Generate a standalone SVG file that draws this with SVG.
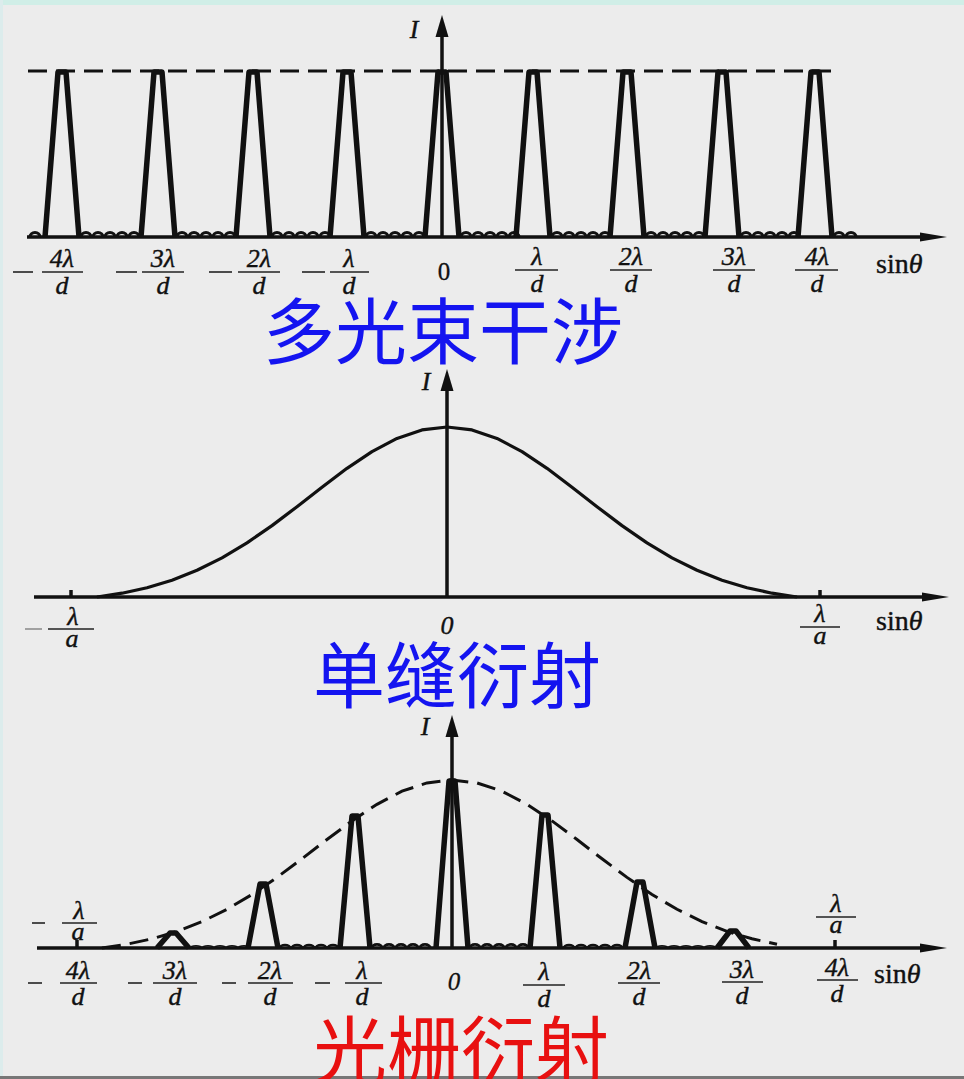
<svg xmlns="http://www.w3.org/2000/svg" xmlns:xlink="http://www.w3.org/1999/xlink" width="964" height="1079" viewBox="0 0 964 1079">
<defs>
<style>
.ax{stroke:#111;stroke-width:3.5;fill:none}
.pk{stroke:#111;stroke-width:5.5;fill:none;stroke-linejoin:round}
.bm{stroke:#111;stroke-width:3.2;fill:none}
.dash{stroke:#111;stroke-width:3;fill:none;stroke-dasharray:19 9}
.curve{stroke:#111;stroke-width:3.2;fill:none;stroke-linejoin:round}
.bar{stroke:#222;stroke-width:1.6}
.mt{font-family:"Liberation Serif","DejaVu Serif",serif;font-style:italic;font-size:26px;fill:#111;text-anchor:middle;stroke:#111;stroke-width:0.4}
.up{font-family:"Liberation Serif","DejaVu Serif",serif;font-size:25px;fill:#111;stroke:#111;stroke-width:0.3}
.sin{font-family:"Liberation Serif","DejaVu Serif",serif;font-size:28px;fill:#111;stroke:#111;stroke-width:0.4}
.tb{font-family:"Noto Sans CJK SC","Noto Sans",sans-serif;font-size:72px;fill:#1414f0}
.tr{font-family:"Noto Sans CJK SC","Noto Sans",sans-serif;font-size:74px;fill:#e81010}
</style>
<marker id="av" markerUnits="userSpaceOnUse" viewBox="0 -8 24 16" refX="0" refY="0" markerWidth="24" markerHeight="16" orient="auto"><path d="M0,-6.5 L22,0 L0,6.5 z" fill="#111"/></marker>
<marker id="ah" markerUnits="userSpaceOnUse" viewBox="0 -6 30 12" refX="0" refY="0" markerWidth="30" markerHeight="12" orient="auto"><path d="M0,-4.5 L27,0 L0,4.5 z" fill="#111"/></marker>
<path id="b5" d="M2,0 a5,4.5 0 0 1 10,0 m2,0 a5,4.5 0 0 1 10,0 m2,0 a5,4.5 0 0 1 10,0 m2,0 a5,4.5 0 0 1 10,0 m2,0 a5,4.5 0 0 1 10,0"/>
</defs>

<rect x="0" y="0" width="964" height="1079" fill="#ececec"/>
<rect x="0" y="0" width="964" height="5" fill="#d0eee7"/>
<rect x="0" y="0" width="3" height="1079" fill="#dcecec"/>
<rect x="0" y="1076" width="964" height="3" fill="#777"/>

<!-- ============ Panel 1: multi-beam interference ============ -->
<g id="panel-top">
  <g id="top-axes">
    <line class="ax" x1="27" y1="237" x2="920" y2="237" marker-end="url(#ah)"/>
    <line class="ax" x1="442" y1="237" x2="442" y2="37" marker-end="url(#av)"/>
  </g>
  <line id="top-dashed" class="dash" x1="28" y1="71" x2="838" y2="71"/>
  <g id="top-peaks">
    <path class="pk" d="M45,237 L58,72 L66,72 L79,237"/>
    <path class="pk" d="M141,237 L154,72 L162,72 L175,237"/>
    <path class="pk" d="M236,237 L249,72 L257,72 L270,237"/>
    <path class="pk" d="M330,237 L343,72 L351,72 L364,237"/>
    <path class="pk" d="M425,237 L438,72 L446,72 L459,237"/>
    <path class="pk" d="M516,237 L529,72 L537,72 L550,237"/>
    <path class="pk" d="M610,237 L623,72 L631,72 L644,237"/>
    <path class="pk" d="M705,237 L718,72 L726,72 L739,237"/>
    <path class="pk" d="M798,237 L811,72 L819,72 L832,237"/>
  </g>
  <g id="top-bumps" class="bm">
    <path d="M30,237 a5,4.5 0 0 1 10,0"/>
    <use xlink:href="#b5" href="#b5" x="79" y="237"/>
    <use xlink:href="#b5" href="#b5" x="175" y="237"/>
    <use xlink:href="#b5" href="#b5" x="270" y="237"/>
    <use xlink:href="#b5" href="#b5" x="364" y="237"/>
    <use xlink:href="#b5" href="#b5" x="459" y="237"/>
    <use xlink:href="#b5" href="#b5" x="550" y="237"/>
    <use xlink:href="#b5" href="#b5" x="644" y="237"/>
    <use xlink:href="#b5" href="#b5" x="739" y="237"/>
    <path d="M834,237 a5,4.5 0 0 1 10,0 m2,0 a5,4.5 0 0 1 10,0"/>
  </g>
  <g id="top-labels">
    <text class="mt" x="414" y="38">I</text>
    <line class="bar" x1="13" y1="272" x2="33" y2="272"/>
    <text class="mt" x="62" y="267">4λ</text><line class="bar" x1="42" y1="272" x2="83" y2="272"/><text class="mt" x="62" y="294">d</text>
    <line class="bar" x1="116" y1="272" x2="137" y2="272"/>
    <text class="mt" x="163" y="267">3λ</text><line class="bar" x1="142" y1="272" x2="184" y2="272"/><text class="mt" x="163" y="294">d</text>
    <line class="bar" x1="209" y1="272" x2="232" y2="272"/>
    <text class="mt" x="259" y="267">2λ</text><line class="bar" x1="238" y1="272" x2="280" y2="272"/><text class="mt" x="259" y="294">d</text>
    <line class="bar" x1="302" y1="272" x2="325" y2="272"/>
    <text class="mt" x="349" y="267">λ</text><line class="bar" x1="330" y1="272" x2="369" y2="272"/><text class="mt" x="349" y="294">d</text>
    <text class="up" x="444" y="280" text-anchor="middle">0</text>
    <text class="mt" x="537" y="265">λ</text><line class="bar" x1="515" y1="270" x2="558" y2="270"/><text class="mt" x="537" y="292">d</text>
    <text class="mt" x="631" y="265">2λ</text><line class="bar" x1="610" y1="270" x2="652" y2="270"/><text class="mt" x="631" y="292">d</text>
    <text class="mt" x="734" y="265">3λ</text><line class="bar" x1="713" y1="270" x2="755" y2="270"/><text class="mt" x="734" y="292">d</text>
    <text class="mt" x="817" y="265">4λ</text><line class="bar" x1="795" y1="270" x2="838" y2="270"/><text class="mt" x="817" y="292">d</text>
    <text class="sin" x="876" y="273">sin<tspan font-style="italic">θ</tspan></text>
  </g>
  <text id="title-top" class="tb" x="263" y="358">多光束干涉</text>
</g>

<!-- ============ Panel 2: single-slit diffraction ============ -->
<g id="panel-mid">
  <g id="mid-axes">
    <line class="ax" x1="34" y1="597" x2="922" y2="597" marker-end="url(#ah)"/>
    <line class="ax" x1="447" y1="597" x2="447" y2="391" marker-end="url(#av)"/>
    <line class="ax" x1="71" y1="590" x2="71" y2="597" stroke-width="2.5"/>
    <line class="ax" x1="820" y1="590" x2="820" y2="597" stroke-width="2.5"/>
  </g>
  <path id="mid-curve" class="curve" d="M97,597 L122,593.2 L147,587.7 L172,580.2 L197,570.3 L222,557.9 L247,542.9 L272,525.6 L297,506.7 L322,487.2 L347,468.3 L372,451.6 L397,438.4 L422,429.9 L447,427 L472,429.9 L497,438.4 L522,451.6 L547,468.3 L572,487.2 L597,506.7 L622,525.6 L647,542.9 L672,557.9 L697,570.3 L722,580.2 L747,587.7 L772,593.2 L797,597"/>
  <g id="mid-labels">
    <text class="mt" x="426" y="390">I</text>
    <line x1="25" y1="629" x2="42" y2="629" stroke="#888" stroke-width="1.5"/>
    <text class="mt" x="73" y="625" font-size="23">λ</text><line class="bar" x1="48" y1="629" x2="94" y2="629"/><text class="mt" x="72" y="647" font-size="23">a</text>
    <text class="mt" x="447" y="634" font-size="23">0</text>
    <text class="mt" x="820" y="622" font-size="23">λ</text><line class="bar" x1="800" y1="627" x2="840" y2="627"/><text class="mt" x="820" y="644" font-size="23">a</text>
    <text class="sin" x="876" y="630">sin<tspan font-style="italic">θ</tspan></text>
  </g>
  <text id="title-mid" class="tb" x="313" y="702" font-size="74">单缝衍射</text>
</g>

<!-- ============ Panel 3: grating diffraction ============ -->
<g id="panel-bottom">
  <g id="bot-axes">
    <line class="ax" x1="37" y1="948" x2="920" y2="948" marker-end="url(#ah)" stroke-width="4"/>
    <line class="ax" x1="452" y1="948" x2="452" y2="737" marker-end="url(#av)"/>
    <line class="ax" x1="77" y1="940" x2="77" y2="948" stroke-width="2.5"/>
    <line class="ax" x1="835" y1="940" x2="835" y2="948" stroke-width="2.5"/>
  </g>
  <path id="bot-envelope" class="dash" d="M102,948 L127,944.2 L152,938.8 L177,931.4 L202,921.6 L227,909.3 L252,894.5 L277,877.4 L302,858.8 L327,839.5 L352,820.9 L377,804.3 L402,791.2 L427,782.9 L452,780 L477,782.9 L502,791.2 L527,804.3 L552,820.9 L577,839.5 L602,858.8 L627,877.4 L652,894.5 L677,909.3 L702,921.6 L727,931.4 L752,938.8 L777,944.2"/>
  <g id="bot-peaks">
    <path class="pk" d="M436,948 L449,781 L455,781 L468,948"/>
    <path class="pk" d="M340,948 L352,816 L358,816 L370,948"/>
    <path class="pk" d="M530,948 L542,815 L548,815 L560,948"/>
    <path class="pk" d="M248,948 L260,884 L266,884 L278,948"/>
    <path class="pk" d="M625,948 L637,882 L643,882 L655,948"/>
    <path class="pk" d="M157,948 L170,933 L176,933 L189,948"/>
    <path class="pk" d="M717,948 L730,931 L736,931 L749,948"/>
  </g>
  <g id="bot-bumps" class="bm">
    <use xlink:href="#b5" href="#b5" transform="translate(370,948) scale(1,0.8)"/>
    <use xlink:href="#b5" href="#b5" transform="translate(468,948) scale(1,0.8)"/>
    <use xlink:href="#b5" href="#b5" transform="translate(278,948) scale(1,0.7)"/>
    <use xlink:href="#b5" href="#b5" transform="translate(562,948) scale(1,0.7)"/>
    <use xlink:href="#b5" href="#b5" transform="translate(189,948) scale(1,0.5)"/>
    <use xlink:href="#b5" href="#b5" transform="translate(655,948) scale(1,0.5)"/>
  </g>
  <g id="bot-labels">
    <text class="mt" x="425" y="735">I</text>
    <line class="bar" x1="32" y1="923" x2="45" y2="923"/>
    <text class="mt" x="79" y="919" font-size="23">λ</text><line class="bar" x1="62" y1="923" x2="97" y2="923"/><text class="mt" x="78" y="940" font-size="23">a</text>
    <text class="mt" x="836" y="912" font-size="23">λ</text><line class="bar" x1="816" y1="917" x2="856" y2="917"/><text class="mt" x="836" y="933" font-size="23">a</text>
    <line class="bar" x1="28" y1="983" x2="42" y2="983"/>
    <text class="mt" x="78" y="979">4λ</text><line class="bar" x1="60" y1="983" x2="97" y2="983"/><text class="mt" x="78" y="1005">d</text>
    <line class="bar" x1="128" y1="983" x2="142" y2="983"/>
    <text class="mt" x="175" y="979">3λ</text><line class="bar" x1="153" y1="983" x2="197" y2="983"/><text class="mt" x="175" y="1005">d</text>
    <line class="bar" x1="222" y1="983" x2="236" y2="983"/>
    <text class="mt" x="270" y="979">2λ</text><line class="bar" x1="248" y1="983" x2="293" y2="983"/><text class="mt" x="270" y="1005">d</text>
    <line class="bar" x1="315" y1="983" x2="330" y2="983"/>
    <text class="mt" x="362" y="979">λ</text><line class="bar" x1="345" y1="983" x2="382" y2="983"/><text class="mt" x="362" y="1005">d</text>
    <text class="up" x="454" y="990" text-anchor="middle" font-style="italic">0</text>
    <text class="mt" x="544" y="980">λ</text><line class="bar" x1="523" y1="985" x2="565" y2="985"/><text class="mt" x="544" y="1007">d</text>
    <text class="mt" x="639" y="979">2λ</text><line class="bar" x1="618" y1="983" x2="660" y2="983"/><text class="mt" x="639" y="1005">d</text>
    <text class="mt" x="742" y="978">3λ</text><line class="bar" x1="722" y1="982" x2="763" y2="982"/><text class="mt" x="742" y="1004">d</text>
    <text class="mt" x="837" y="976">4λ</text><line class="bar" x1="817" y1="980" x2="858" y2="980"/><text class="mt" x="837" y="1002">d</text>
    <text class="sin" x="874" y="983">sin<tspan font-style="italic">θ</tspan></text>
  </g>
  <text id="title-bot" class="tr" x="313" y="1078">光栅衍射</text>
</g>
</svg>
